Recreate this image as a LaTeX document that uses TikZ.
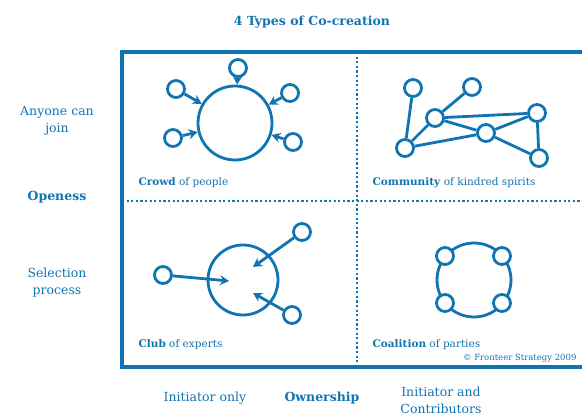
\documentclass[tikz,border=0pt]{standalone}
\usepackage{fontspec}
\setmainfont{DejaVu Serif}
\usetikzlibrary{arrows.meta}
\definecolor{fsblue}{RGB}{16,116,178}

\begin{document}
\begin{tikzpicture}[x=1pt, y=-1pt, color=fsblue,
    hub/.style={circle, draw, line width=2.8pt, minimum size=74pt, inner sep=0pt},
    dot/.style={circle, draw, fill=white, line width=2.8pt, minimum size=17pt, inner sep=0pt},
    arr/.style={-{Stealth[length=9pt, width=10pt]}, line width=2.8pt},
    link/.style={line width=2.8pt},
    frame/.style={line width=3.4pt},
    sep/.style={line width=2.8pt, dash pattern=on 2.2pt off 2.4pt},
    axis/.style={font=\fontsize{12.5}{17}\selectfont, align=center},
    axisb/.style={font=\bfseries\fontsize{12.5}{17}\selectfont},
    tag/.style={anchor=west, font=\fontsize{10.5}{12}\selectfont}
]
\clip (0,0) rectangle (582,419);

% matrix frame
\draw[frame] (600,52) -- (122,52) -- (122,367) -- (600,367);
\draw[sep] (357,52) -- (357,367);
\draw[sep] (122,201) -- (600,201);

\node[axisb] (title) at (312,22) {4 Types of Co-creation};
\node[axis]  (anyone) at (57,121) {Anyone can\\join};
\node[axisb] (open)   at (57,197) {Openess};
\node[axis]  (select) at (57,283) {Selection\\process};
\node[axis]  (initonly) at (205,398) {Initiator only};
\node[axisb] (own)      at (322,398) {Ownership};
\node[axis]  (initcont) at (441,400) {Initiator and\\Contributors};

% crowd
\node[hub] (crowd) at (235,123) {};
\node[dot] (c1) at (238,68) {};
\node[dot] (c2) at (176,89) {};
\node[dot] (c3) at (290,93) {};
\node[dot] (c4) at (173,138) {};
\node[dot] (c5) at (293,142) {};
\foreach \n in {1,...,5} \draw[arr] (c\n) -- (crowd);
\node[tag] (crowdtag) at (135,183) {\textbf{Crowd} of people};

% community
\node[dot] (k1) at (413,88) {};
\node[dot] (k2) at (472,87) {};
\node[dot] (k3) at (435,118) {};
\node[dot] (k4) at (405,148) {};
\node[dot] (k5) at (486,133) {};
\node[dot] (k6) at (537,113) {};
\node[dot] (k7) at (539,158) {};
\draw[link] (k1) -- (k4)  (k2) -- (k3)  (k3) -- (k4)  (k3) -- (k6)  (k3) -- (k5)
            (k4) -- (k5)  (k5) -- (k6)  (k5) -- (k7)  (k6) -- (k7);
\node[tag] (commtag) at (369,183) {\textbf{Community} of kindred spirits};

% club
\node[hub, minimum size=70pt] (club) at (243,280) {};
\node[dot] (e1) at (163,275) {};
\node[dot] (e2) at (302,232) {};
\node[dot] (e3) at (292,315) {};
\coordinate (t1) at (229,281);
\coordinate (t2) at (253,267);
\coordinate (t3) at (253,293);
\foreach \n in {1,2,3} \draw[arr] (e\n) -- (t\n);
\node[tag] (clubtag) at (135,345) {\textbf{Club} of experts};

% coalition
\node[hub] (coal) at (474,280) {};
\node[dot] (q1) at (445,256) {};
\node[dot] (q2) at (502,256) {};
\node[dot] (q3) at (445,303) {};
\node[dot] (q4) at (502,303) {};
\node[tag] (coaltag) at (369,345) {\textbf{Coalition} of parties};
\node[anchor=east, font=\fontsize{8.5}{10}\selectfont] (copy) at (580,358) {\textcopyright{} Fronteer Strategy 2009};
\end{tikzpicture}
\end{document}
